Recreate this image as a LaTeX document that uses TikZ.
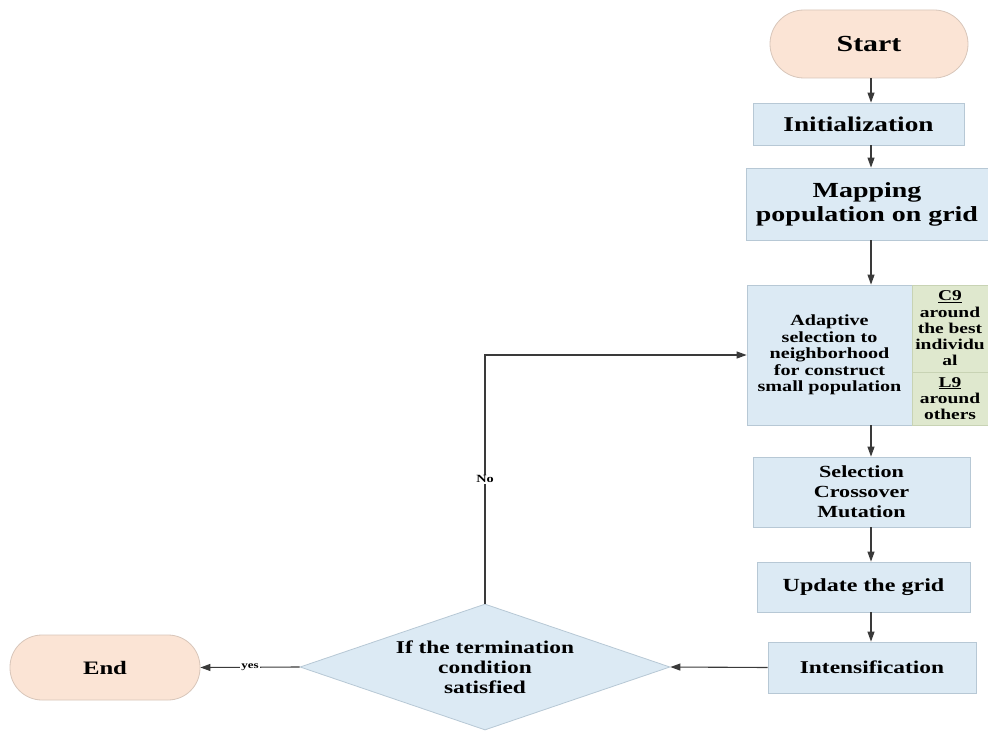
\documentclass[tikz,border=0pt]{standalone}
\usepackage{fontspec}
\setmainfont{Liberation Serif}[FakeStretch=1.3]
\usetikzlibrary{shapes.geometric,arrows.meta}
\definecolor{peach}{HTML}{FBE4D5}
\definecolor{peachline}{HTML}{D8C6BA}
\definecolor{bluefill}{HTML}{DCEAF4}
\definecolor{blueline}{HTML}{B7C8D5}
\definecolor{greenfill}{HTML}{DFE8CE}
\definecolor{greenline}{HTML}{C8D3B4}
\definecolor{conn}{HTML}{3A3A3A}
\newcommand{\fs}[2]{\fontsize{#1}{#2}\selectfont}
\begin{document}
\begin{tikzpicture}[x=1pt,y=-1pt,
  term/.style={draw=peachline, fill=peach, line width=0.8pt, inner sep=0pt, align=center},
  proc/.style={draw=blueline, fill=bluefill, line width=0.8pt, inner sep=0pt, align=center},
  side/.style={draw=greenline, fill=greenfill, line width=0.8pt, inner sep=0pt, align=center},
  dec/.style={diamond, aspect=3, draw=blueline, fill=bluefill, line width=0.8pt, inner sep=0pt, align=center},
  arr/.style={draw=conn, line width=1.1pt, -{Triangle[length=10pt,width=7pt]}},
  lbl/.style={fill=white, inner sep=1pt}
]
\useasboundingbox (0,0) rectangle (988,733);
\fill[white] (0,0) rectangle (988,733);

\coordinate (ax) at (871,0);

\node[term, rounded corners=34pt, minimum width=198pt, minimum height=68pt, font=\bfseries\fs{23}{26}] (start) at (869,44) {Start};
\node[proc, minimum width=211pt, minimum height=42pt, font=\bfseries\fs{21}{24}] (init) at (858.5,124) {Initialization};
\node[proc, minimum width=242pt, minimum height=72pt, font=\bfseries\fs{21.5}{24}] (map) at (867,204) {Mapping\\population on grid};
\node[proc, minimum width=165pt, minimum height=140pt, font=\bfseries\fs{15.5}{16.5}] (adapt) at (829.5,355) {Adaptive\\selection to\\neighborhood\\for construct\\small population};
\node[side, minimum width=76pt, minimum height=87pt, font=\bfseries\fs{15}{16.3}] (c9) at (950,328.5) {\underline{C9}\\around\\the best\\individu\\al};
\node[side, minimum width=76pt, minimum height=53pt, font=\bfseries\fs{15}{16.3}] (l9) at (950,398.5) {\underline{L9}\\around\\others};
\node[proc, minimum width=217pt, minimum height=70pt, font=\bfseries\fs{17}{20}] (sel) at (861.5,492) {Selection\\Crossover\\Mutation};
\node[proc, minimum width=213pt, minimum height=50pt, font=\bfseries\fs{18.5}{21}] (upd) at (863.5,587) {Update the grid};
\node[proc, minimum width=208pt, minimum height=51pt, font=\bfseries\fs{18}{21}] (int) at (872,667.5) {Intensification};
\node[dec, minimum width=370pt, minimum height=126pt, font=\bfseries\fs{18}{20}] (cond) at (485,667) {If the termination\\condition\\satisfied};
\node[term, rounded corners=32pt, minimum width=190pt, minimum height=65pt, font=\bfseries\fs{19}{22}] (end) at (105,667.5) {End};

\draw[arr] (start.south -| ax) -- (init.north -| ax);
\draw[arr] (init.south -| ax) -- (map.north -| ax);
\draw[arr] (map.south -| ax) -- (adapt.north -| ax);
\draw[arr] (adapt.south -| ax) -- (sel.north -| ax);
\draw[arr] (sel.south -| ax) -- (upd.north -| ax);
\draw[arr] (upd.south -| ax) -- (int.north -| ax);
\draw[arr] (int.west) -- (cond.east);
\draw[arr] (cond.west) -- node[lbl, pos=0.5, font=\bfseries\fs{10}{12}]{yes} (end.east);
\draw[arr] (cond.north) |- node[lbl, pos=0.25, font=\bfseries\fs{11}{12}]{No} (adapt.west);
\end{tikzpicture}
\end{document}
